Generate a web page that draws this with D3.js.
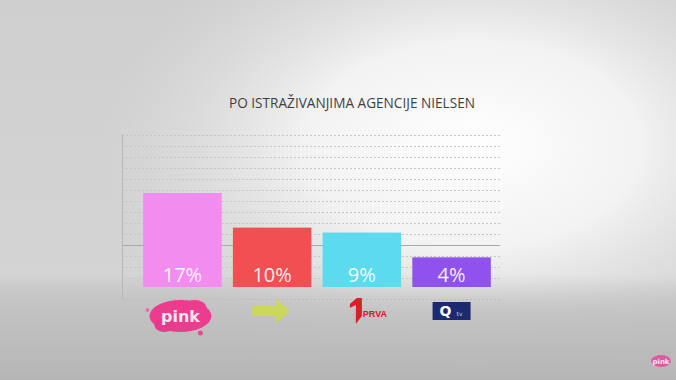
<!DOCTYPE html>
<html>
<head>
<meta charset="utf-8">
<script src="https://cdn.jsdelivr.net/npm/d3@7"></script>
<style>
  html, body { margin: 0; padding: 0; overflow: hidden; }
  svg { display: block; }
</style>
</head>
<body>
<script>
// data
var channels = ["Pink", "B92", "Prva", "O2"];
var shares = [17, 10, 9, 4];
var labels = ["17%", "10%", "9%", "4%"];
var barColors = ["#f38cef", "#f24f52", "#5cdaee", "#8f52ee"];
var title = "PO ISTRAŽIVANJIMA AGENCIJE NIELSEN";

var width = 676, height = 380;

var svg = d3.select("body").append("svg")
    .attr("width", width)
    .attr("height", height);

var defs = svg.append("defs");

// background: grey studio wall with a bright spot
var bg = defs.append("linearGradient").attr("id", "bg")
    .attr("x1", 0).attr("y1", 0).attr("x2", 0).attr("y2", 1);
bg.append("stop").attr("offset", "0%").attr("stop-color", "#cfcfcf");
bg.append("stop").attr("offset", "72%").attr("stop-color", "#d4d4d4");
bg.append("stop").attr("offset", "80%").attr("stop-color", "#c4c4c4");
bg.append("stop").attr("offset", "100%").attr("stop-color", "#b4b4b4");

var glow = defs.append("radialGradient").attr("id", "glow")
    .attr("cx", 0.7).attr("cy", 0.38).attr("r", 0.55)
    .attr("gradientTransform", "translate(0.7,0.38) scale(1,1.1) translate(-0.7,-0.38)");
glow.append("stop").attr("offset", "0%").attr("stop-color", "#ffffff").attr("stop-opacity", 1);
glow.append("stop").attr("offset", "45%").attr("stop-color", "#f6f6f6").attr("stop-opacity", 0.9);
glow.append("stop").attr("offset", "100%").attr("stop-color", "#e0e0e0").attr("stop-opacity", 0);

var floor = defs.append("linearGradient").attr("id", "floor")
    .attr("x1", 0).attr("y1", 0).attr("x2", 0).attr("y2", 1);
floor.append("stop").attr("offset", "0%").attr("stop-color", "#c8c8c8").attr("stop-opacity", 0);
floor.append("stop").attr("offset", "35%").attr("stop-color", "#c2c2c2").attr("stop-opacity", 0.85);
floor.append("stop").attr("offset", "100%").attr("stop-color", "#b6b6b6").attr("stop-opacity", 1);

svg.append("rect").attr("width", width).attr("height", height).attr("fill", "url(#bg)");
svg.append("rect").attr("width", width).attr("height", height).attr("fill", "url(#glow)");
svg.append("rect").attr("y", 275).attr("width", width).attr("height", 105).attr("fill", "url(#floor)");

// title
svg.append("text")
    .attr("x", 352).attr("y", 108)
    .attr("text-anchor", "middle")
    .attr("textLength", 246)
    .attr("lengthAdjust", "spacingAndGlyphs")
    .style("font-family", "'Open Sans', sans-serif")
    .style("font-size", "15px")
    .style("fill", "#3f3f3f")
    .text(title);

// scales
var x = d3.scaleBand().domain(channels).range([136, 498]).paddingInner(0.125).paddingOuter(0.08);
var y = d3.scaleLinear().domain([-2, 17]).range([287, 193]);
var grid = d3.scaleLinear().domain([0, 14]).range([289, 135]);

// grid
var g = svg.append("g");
g.selectAll("line.grid")
    .data(d3.range(1, 15))
    .join("line")
    .attr("class", "grid")
    .attr("x1", 122).attr("x2", 500)
    .attr("y1", function(d) { return Math.round(grid(d)) + 0.5; })
    .attr("y2", function(d) { return Math.round(grid(d)) + 0.5; })
    .attr("stroke", function(d) { return d === 4 ? "#a9a9a9" : "#c6c6c6"; })
    .attr("stroke-width", 1)
    .attr("stroke-dasharray", function(d) { return d === 4 ? null : "2,2"; });

// y axis line
g.append("line")
    .attr("x1", 122.5).attr("x2", 122.5)
    .attr("y1", 134).attr("y2", 299)
    .attr("stroke", "#b8b8b8");
g.append("line")
    .attr("x1", 122).attr("x2", 500)
    .attr("y1", 299.5).attr("y2", 299.5)
    .attr("stroke", "#bcbcbc").attr("stroke-dasharray", "2,2");

// bars
svg.selectAll("rect.bar")
    .data(shares)
    .join("rect")
    .attr("class", "bar")
    .attr("x", function(d, i) { return x(channels[i]); })
    .attr("y", function(d) { return y(d); })
    .attr("width", x.bandwidth())
    .attr("height", function(d) { return y(-2) - y(d); })
    .attr("fill", function(d, i) { return barColors[i]; });

svg.selectAll("text.val")
    .data(labels)
    .join("text")
    .attr("class", "val")
    .attr("x", function(d, i) { return x(channels[i]) + x.bandwidth() / 2; })
    .attr("y", 282)
    .attr("text-anchor", "middle")
    .style("font-family", "'Open Sans', sans-serif")
    .style("font-size", "20px")
    .style("fill", "#ffffff")
    .style("fill-opacity", 0.92)
    .text(function(d) { return d; });

// channel logos under the bars
var logos = svg.append("g");
var cx = function(i) { return x(channels[i]) + x.bandwidth() / 2; };

// pink splash
var pk = logos.append("g").attr("transform", "translate(" + (cx(0) - 2) + ",316)");
pk.append("ellipse").attr("rx", 31).attr("ry", 16).attr("fill", "#ec3c8e");
pk.append("ellipse").attr("cx", 14).attr("cy", -8).attr("rx", 12).attr("ry", 8).attr("fill", "#ec3c8e");
pk.append("ellipse").attr("cx", -16).attr("cy", 9).attr("rx", 10).attr("ry", 7).attr("fill", "#e83a8a");
pk.append("circle").attr("cx", -33).attr("cy", -6).attr("r", 2).attr("fill", "#f06aa6");
pk.append("circle").attr("cx", 20).attr("cy", 17).attr("r", 2.5).attr("fill", "#ec4a95");
pk.append("text")
    .attr("x", 0).attr("y", 6)
    .attr("text-anchor", "middle")
    .style("font-family", "'DejaVu Sans', sans-serif")
    .style("font-weight", "bold")
    .style("font-size", "16px")
    .style("fill", "#fbe6f2")
    .text("pink");

// green arrow
var ar = logos.append("g").attr("transform", "translate(" + (cx(1) - 20) + ",311)");
ar.append("path")
    .attr("d", "M0,-5 L24,-5 L24,-12 L38,0 L24,12 L24,5 L0,5 Z")
    .attr("fill", "#ccdc4a")
    .attr("opacity", 0.85);

// 1 PRVA: the "1" is drawn as a shape, "PRVA" beside it
var pr = logos.append("g").attr("transform", "translate(" + (cx(2) - 12) + ",298)");
pr.append("path")
    .attr("d", "M0,6 L7,0 L12,0 L12,18 L6,26 L6,7 L0,10 Z")
    .attr("fill", "#d8202a");
pr.append("text")
    .attr("x", 13).attr("y", 19)
    .style("font-family", "'Liberation Sans', sans-serif")
    .style("font-weight", "bold")
    .style("font-size", "9px")
    .style("fill", "#c81c25")
    .text("PRVA");

// O2 tv
var o2 = logos.append("g").attr("transform", "translate(" + (cx(3) - 19) + ",302)");
o2.append("rect").attr("width", 38).attr("height", 18).attr("fill", "#1d2a70");
o2.append("text")
    .attr("x", 13).attr("y", 14)
    .attr("text-anchor", "middle")
    .style("font-family", "'DejaVu Sans', sans-serif")
    .style("font-weight", "bold")
    .style("font-size", "14px")
    .style("fill", "#ffffff")
    .text("Q");
o2.append("text")
    .attr("x", 24).attr("y", 14)
    .style("font-family", "'DejaVu Sans', sans-serif")
    .style("font-size", "6px")
    .style("fill", "#c8cde8")
    .text("tv");

// small watermark bottom right
var wm = svg.append("g").attr("transform", "translate(661,361)");
wm.append("ellipse").attr("rx", 10).attr("ry", 6).attr("fill", "#e6479a").attr("opacity", 0.85);
wm.append("text")
    .attr("y", 3).attr("text-anchor", "middle")
    .style("font-family", "'DejaVu Sans', sans-serif")
    .style("font-weight", "bold")
    .style("font-size", "7px")
    .style("fill", "#fde8f3")
    .text("pink");
</script>
</body>
</html>
